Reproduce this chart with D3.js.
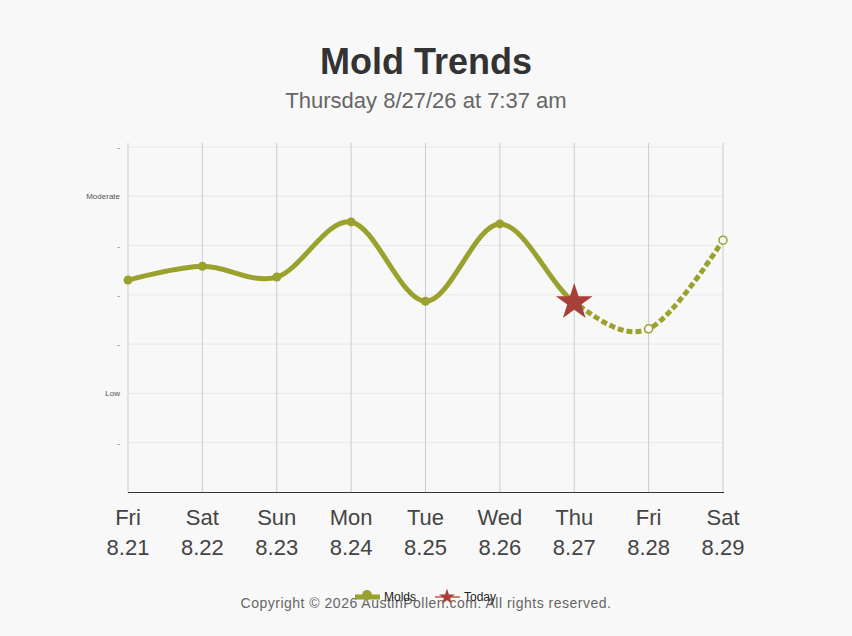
<!DOCTYPE html>
<html><head><meta charset="utf-8">
<script src="https://cdn.jsdelivr.net/npm/d3@7"></script>
<style>body{margin:0;background:#f8f8f8;font-family:"Liberation Sans",Arial,sans-serif}</style>
</head><body><svg id="c" width="852" height="636"></svg>
<script>
const days = ["Fri","Sat","Sun","Mon","Tue","Wed","Thu","Fri","Sat"];
const dates = ["8.21","8.22","8.23","8.24","8.25","8.26","8.27","8.28","8.29"];
const molds = [4.30, 4.58, 4.36, 5.48, 3.87, 5.44, 3.85, 3.31, 5.11];
const todayIndex = 6;
const yTicks = [1,2,3,4,5,6,7];
const yTickLabels = ["-","Low","-","-","-","Moderate","-"];

const svg = d3.select("#c");
const x = d3.scaleLinear().domain([0, 8]).range([128, 723]);
const y = d3.scaleLinear().domain([0, 7]).range([492, 147]);
const color = "#9aa12d";

svg.append("text").attr("x",426).attr("y",74).attr("text-anchor","middle")
  .attr("font-size",36).attr("font-weight","bold").attr("fill","#333").text("Mold Trends");
svg.append("text").attr("x",426).attr("y",108).attr("text-anchor","middle")
  .attr("font-size",22).attr("fill","#666").text("Thursday 8/27/26 at 7:37 am");

// grid
svg.append("g").selectAll("line").data(yTicks).join("line")
  .attr("x1",128).attr("x2",723).attr("y1",d=>y(d)).attr("y2",d=>y(d))
  .attr("stroke","#e8e8e8");
svg.append("g").selectAll("line").data(d3.range(9)).join("line")
  .attr("x1",d=>x(d)).attr("x2",d=>x(d)).attr("y1",143).attr("y2",492)
  .attr("stroke","#ccc");
svg.append("g").selectAll("text").data(yTicks).join("text")
  .attr("x",120).attr("y",d=>y(d)+3).attr("text-anchor","end")
  .attr("font-size",8).attr("fill","#555").text((d,i)=>yTickLabels[i]);
svg.append("line").attr("x1",128).attr("x2",724).attr("y1",492.5).attr("y2",492.5).attr("stroke","#333");

const xa = svg.append("g").selectAll("g").data(days).join("g")
  .attr("transform",(d,i)=>`translate(${x(i)},0)`);
xa.append("text").attr("y",525).attr("text-anchor","middle").attr("font-size",22).attr("fill","#444").text(d=>d);
xa.append("text").attr("y",555).attr("text-anchor","middle").attr("font-size",22).attr("fill","#444").text((d,i)=>dates[i]);

const pts = molds.map((v,i)=>[x(i), y(v)]);
const line = d3.line().curve(d3.curveCardinal.tension(0));
// full path, clip into solid and dashed parts
const defs = svg.append("defs");
defs.append("clipPath").attr("id","past").append("rect").attr("x",0).attr("y",0).attr("width",x(todayIndex)).attr("height",636);
defs.append("clipPath").attr("id","fut").append("rect").attr("x",x(todayIndex)).attr("y",0).attr("width",852).attr("height",636);
svg.append("path").attr("d",line(pts)).attr("fill","none").attr("stroke",color).attr("stroke-width",5).attr("clip-path","url(#past)");
svg.append("path").attr("d",line(pts)).attr("fill","none").attr("stroke",color).attr("stroke-width",5)
  .attr("stroke-dasharray","6,3").attr("clip-path","url(#fut)");

svg.append("g").selectAll("circle").data(pts.slice(0,todayIndex)).join("circle")
  .attr("cx",d=>d[0]).attr("cy",d=>d[1]).attr("r",4.5).attr("fill",color);
svg.append("g").selectAll("circle").data(pts.slice(todayIndex+1)).join("circle")
  .attr("cx",d=>d[0]).attr("cy",d=>d[1]).attr("r",4).attr("fill","#f8f8f8").attr("stroke",color).attr("stroke-width",1.5);

const star = d3.symbol().type(d3.symbolStar);
svg.append("path").attr("d",star.size(420)())
  .attr("transform",`translate(${pts[todayIndex][0]},${pts[todayIndex][1]})`).attr("fill","#a8403a");

// footer
svg.append("text").attr("x",426).attr("y",608).attr("text-anchor","middle").attr("font-size",14)
  .attr("fill","#666").attr("letter-spacing",0.5).text("Copyright © 2026 AustinPollen.com.  All rights reserved.");
const lg = svg.append("g");
lg.append("line").attr("x1",355).attr("x2",380).attr("y1",597).attr("y2",597).attr("stroke",color).attr("stroke-width",5);
lg.append("circle").attr("cx",367).attr("cy",595).attr("r",5).attr("fill",color);
lg.append("text").attr("x",384).attr("y",601).attr("font-size",12).attr("fill","#222").text("Molds");
lg.append("line").attr("x1",435).attr("x2",460).attr("y1",597).attr("y2",597).attr("stroke","#d08070").attr("stroke-width",2);
lg.append("path").attr("d",star.size(80)()).attr("transform","translate(447,597)").attr("fill","#a8403a");
lg.append("text").attr("x",464).attr("y",601).attr("font-size",12).attr("fill","#222").text("Today");
</script></body></html>
